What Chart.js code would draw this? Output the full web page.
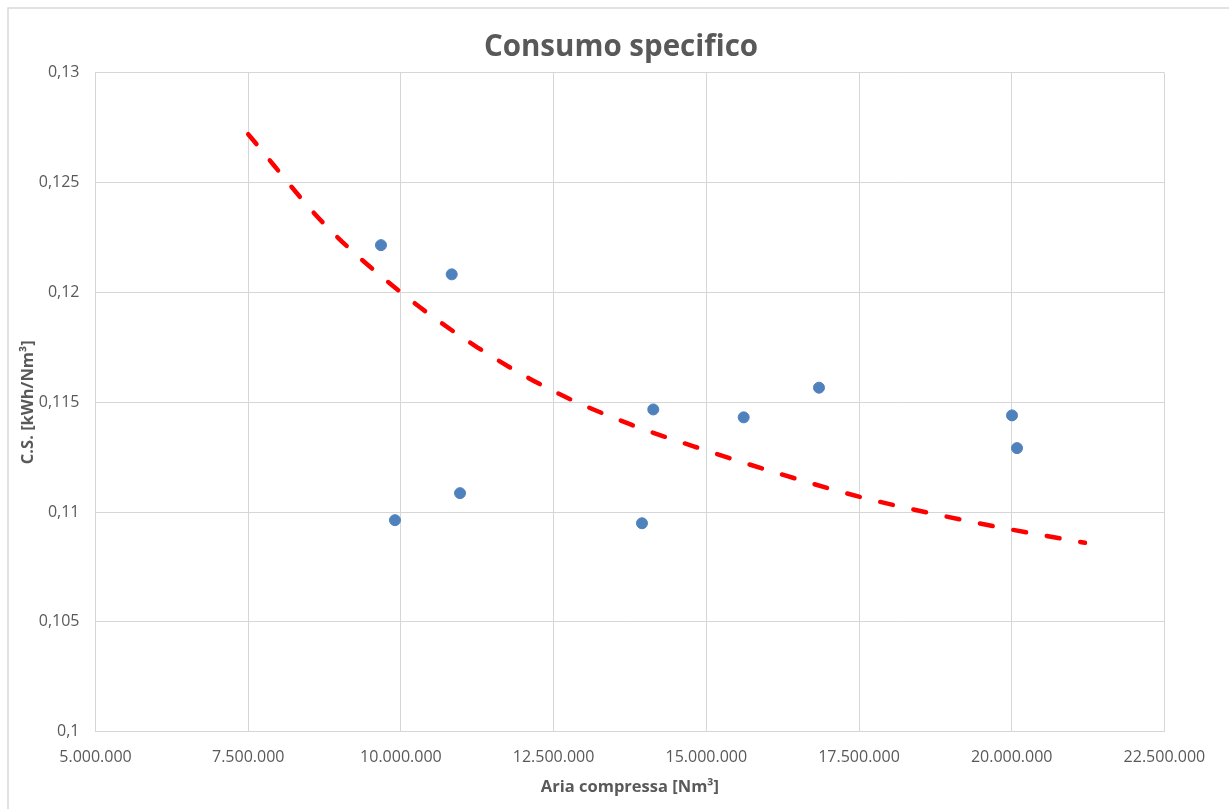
<!DOCTYPE html>
<html lang="it">
<head>
<meta charset="utf-8">
<title>Consumo specifico</title>
<script src="https://cdn.jsdelivr.net/npm/chart.js@4.4.1/dist/chart.umd.min.js"></script>
<style>
  html, body { margin: 0; padding: 0; background: #ffffff; }
  #wrap { width: 1229px; height: 809px; position: relative; }
</style>
</head>
<body>
<div id="wrap"><canvas id="chart" width="1229" height="809"></canvas></div>
<script>
// Measured points: compressed air volume [Nm³] and specific consumption [kWh/Nm³]
const ariaCompressa = [9674000, 10832000, 9903000, 10968000, 13947000, 14132000, 15612000, 16845000, 20005000, 20087000];
const consumoSpecifico = [0.12215, 0.12082, 0.10963, 0.11086, 0.10949, 0.11467, 0.11431, 0.11566, 0.1144, 0.11291];

// Trend line (dashed red) sampled along its course
const trendX = [7500000, 8750000, 10000000, 11250000, 12500000, 13750000, 15000000, 16250000, 17500000, 18750000, 20000000, 21200000];
const trendY = [0.1272, 0.1231, 0.1200, 0.1175, 0.1155, 0.1140, 0.1128, 0.1117, 0.1107, 0.1099, 0.1092, 0.1086];

// Axis ticks
const xTicks = [5000000, 7500000, 10000000, 12500000, 15000000, 17500000, 20000000, 22500000];
const yTicks = [0.1, 0.105, 0.11, 0.115, 0.12, 0.125, 0.13];

const TEXT = '#595959';
const GRID = '#d6d6d6';
const FONT = "'Open Sans', 'DejaVu Sans', sans-serif";

const fmtThousands = v => Math.round(v).toString().replace(/\B(?=(\d{3})+(?!\d))/g, '.');
const fmtDecimal = v => parseFloat(v.toFixed(4)).toString().replace('.', ',');

// Light outer frame of the chart
const framePlugin = {
  id: 'frame',
  beforeDraw(chart) {
    const ctx = chart.ctx;
    ctx.save();
    ctx.strokeStyle = '#d9d9d9';
    ctx.lineWidth = 1.5;
    ctx.beginPath();
    ctx.moveTo(8, chart.height + 5);
    ctx.lineTo(8, 8);
    ctx.lineTo(chart.width + 5, 8);
    ctx.stroke();
    ctx.restore();
  }
};

// Title is centred on the frame (left padding); an empty right-hand gutter
// keeps the plot area ending at x = 1164.4.
const PAD_LEFT = 13;
const PLOT_LEFT = 95.5;
const RIGHT_GUTTER = 64.6;

new Chart(document.getElementById('chart'), {
  type: 'scatter',
  data: {
    datasets: [
      {
        label: 'Consumo specifico',
        data: ariaCompressa.map((x, i) => ({ x, y: consumoSpecifico[i] })),
        backgroundColor: '#4f81bd',
        borderColor: '#4f81bd',
        pointRadius: 5.5,
        pointHoverRadius: 5.5,
        order: 1
      },
      {
        type: 'line',
        label: 'Tendenza',
        data: trendX.map((x, i) => ({ x, y: trendY[i] })),
        borderColor: '#ff0000',
        borderWidth: 4.5,
        borderDash: [13, 21],
        borderCapStyle: 'round',
        cubicInterpolationMode: 'monotone',
        pointRadius: 0,
        fill: false,
        order: 0
      }
    ]
  },
  options: {
    responsive: false,
    animation: false,
    devicePixelRatio: 1,
    layout: { padding: { left: PAD_LEFT, right: 0, top: 0, bottom: 0 } },
    plugins: {
      legend: { display: false },
      tooltip: { enabled: false },
      title: {
        display: true,
        text: 'Consumo specifico',
        color: TEXT,
        font: { family: FONT, size: 29.5, weight: 'bold' },
        padding: { top: 30.3, bottom: 7 }
      }
    },
    scales: {
      x: {
        type: 'linear',
        min: 5000000,
        max: 22500000,
        afterBuildTicks: s => { s.ticks = xTicks.map(v => ({ value: v })); },
        afterFit: s => { s.height = 77.3; },
        grid: { color: GRID, drawTicks: false },
        border: { color: GRID },
        ticks: {
          color: TEXT,
          padding: 16,
          maxRotation: 0,
          font: { family: FONT, size: 16 },
          callback: v => fmtThousands(v)
        },
        title: {
          display: true,
          text: 'Aria compressa [Nm³]',
          color: TEXT,
          font: { family: FONT, size: 16.5, weight: 'bold' },
          padding: { top: 0, bottom: 12.2 }
        }
      },
      y: {
        type: 'linear',
        min: 0.1,
        max: 0.13,
        afterBuildTicks: s => { s.ticks = yTicks.map(v => ({ value: v })); },
        afterFit: s => { s.width = PLOT_LEFT - PAD_LEFT; },
        grid: { color: GRID, drawTicks: false },
        border: { color: GRID },
        ticks: {
          color: TEXT,
          padding: 16,
          font: { family: FONT, size: 16 },
          callback: v => fmtDecimal(v)
        },
        title: {
          display: true,
          text: 'C.S. [kWh/Nm³]',
          color: TEXT,
          font: { family: FONT, size: 16.5, weight: 'bold' },
          padding: { top: 5, bottom: 0 }
        }
      },
      gutter: {
        type: 'linear',
        position: 'right',
        display: true,
        afterFit: s => { s.width = RIGHT_GUTTER; },
        grid: { display: false, drawTicks: false },
        border: { display: false },
        ticks: { display: false },
        title: { display: false }
      }
    }
  },
  plugins: [framePlugin]
});
</script>
</body>
</html>
